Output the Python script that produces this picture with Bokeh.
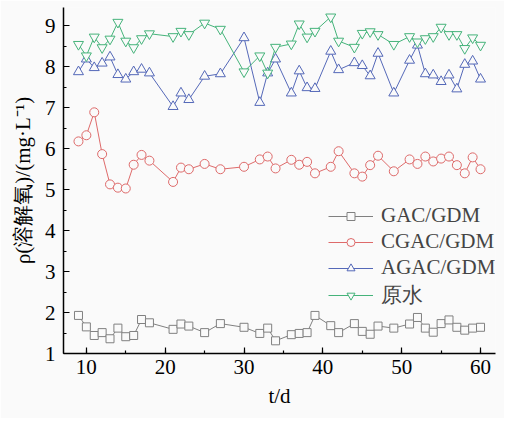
from bokeh.plotting import figure
from bokeh.models import Range1d, Legend, LegendItem, SingleIntervalTicker, Title
from bokeh.embed import file_html
from bokeh.resources import INLINE

days = [9, 10, 11, 12, 13, 14, 15, 16, 17, 18, 21, 22, 23, 25, 27, 30, 32, 33, 34, 36,
        37, 38, 39, 41, 42, 44, 45, 46, 47, 49, 51, 52, 53, 54, 55, 56, 57, 58, 59, 60]

gac = [1.93, 1.65, 1.44, 1.51, 1.36, 1.62, 1.41, 1.44, 1.83, 1.75, 1.59, 1.72, 1.67, 1.51,
       1.73, 1.64, 1.49, 1.62, 1.31, 1.46, 1.49, 1.51, 1.93, 1.68, 1.51, 1.73, 1.54, 1.47,
       1.67, 1.62, 1.72, 1.88, 1.62, 1.52, 1.73, 1.82, 1.64, 1.57, 1.62, 1.64]

cgac = [6.18, 6.33, 6.89, 5.87, 5.13, 5.05, 5.03, 5.61, 5.85, 5.71, 5.19, 5.54, 5.50, 5.63,
        5.50, 5.56, 5.74, 5.81, 5.52, 5.73, 5.61, 5.68, 5.40, 5.56, 5.94, 5.40, 5.32, 5.60,
        5.83, 5.45, 5.74, 5.63, 5.81, 5.69, 5.76, 5.81, 5.60, 5.40, 5.79, 5.50]

agac = [7.88, 8.19, 7.98, 8.09, 8.24, 7.81, 7.70, 7.88, 7.94, 7.85, 7.03, 7.36, 7.20, 7.77,
        7.83, 8.71, 7.13, 7.85, 8.19, 7.36, 7.90, 7.49, 7.47, 8.38, 7.93, 8.10, 8.03, 7.78,
        8.33, 7.36, 8.16, 8.53, 7.83, 7.80, 7.64, 7.80, 7.46, 8.06, 8.14, 7.70]

raw = [8.55, 8.27, 8.73, 8.47, 8.68, 9.09, 8.63, 8.47, 8.69, 8.81, 8.74, 8.87, 8.79, 9.07,
       8.92, 7.88, 8.27, 7.85, 8.48, 8.56, 9.05, 8.73, 8.87, 9.22, 8.63, 8.48, 8.82, 8.86,
       8.79, 8.55, 8.74, 8.61, 8.69, 8.74, 8.97, 8.79, 8.79, 8.45, 8.71, 8.53]

names = ["GAC/GDM", "CGAC/GDM", "AGAC/GDM", "原水"]
colors = ["#808080", "#de6a6a", "#5468b8", "#45b37a"]
markers = ["square", "circle", "triangle", "inverted_triangle"]
sizes = [8, 9, 10, 10]
series = [gac, cgac, agac, raw]

BG = "#fafafa"
SERIF = "'Liberation Serif', 'Times New Roman', serif"

p = figure(width=504, height=418, output_backend="svg", toolbar_location=None,
           x_range=Range1d(7.1, 61.9), y_range=Range1d(1, 9.45),
           background_fill_color=BG, border_fill_color=BG,
           min_border_left=63, min_border_right=9, min_border_top=7, min_border_bottom=65)
p.outline_line_color = None
p.grid.visible = False

items = []
for name, col, mk, sz, ys in zip(names, colors, markers, sizes, series):
    r1 = p.line(days, ys, line_color=col, line_width=1)
    r2 = p.scatter(days, ys, marker=mk, size=sz, line_color=col, line_width=1, fill_color=BG)
    items.append(LegendItem(label=name, renderers=[r1, r2]))

legend = Legend(items=items, location=(265, 44), background_fill_alpha=0,
                border_line_color=None, label_text_font=SERIF, label_text_font_size="21px",
                glyph_width=45, glyph_height=20, label_standoff=8, spacing=1, padding=3,
                label_height=20)
p.add_layout(legend, "center")

for ax in [p.xaxis[0], p.yaxis[0]]:
    ax.axis_line_width = 1.5
    ax.axis_line_color = "black"
    ax.major_tick_in = 6
    ax.major_tick_out = 0
    ax.minor_tick_in = 3
    ax.minor_tick_out = 0
    ax.major_tick_line_width = 1.2
    ax.minor_tick_line_width = 1.2
    ax.major_label_text_font = SERIF
    ax.major_label_text_font_size = "21px"
    ax.major_label_text_color = "black"

p.xaxis[0].ticker = SingleIntervalTicker(interval=10, num_minor_ticks=2)
p.yaxis[0].ticker = SingleIntervalTicker(interval=1, num_minor_ticks=2)
p.xaxis[0].major_label_standoff = 6
p.yaxis[0].major_label_standoff = 8

# axis titles
p.add_layout(Title(text="t/d", align="center", text_font=SERIF, text_font_size="21px",
                   text_font_style="normal", text_color="black", standoff=11), "below")
p.add_layout(Title(text="ρ(溶解氧)/(mg·L⁻¹)", align="center", text_font=SERIF,
                   text_font_size="21px", text_font_style="normal", text_color="black",
                   standoff=14), "left")

open("out.html", "w").write(file_html(p, INLINE))
